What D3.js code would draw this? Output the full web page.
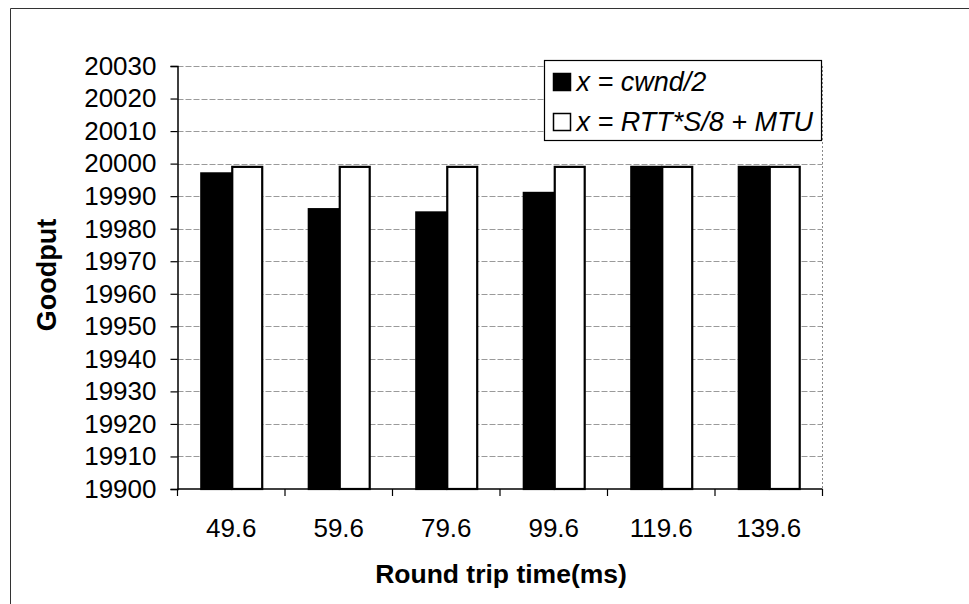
<!DOCTYPE html>
<html>
<head>
<meta charset="utf-8">
<script src="https://cdn.jsdelivr.net/npm/d3@7"></script>
<style>
  html, body { margin: 0; padding: 0; background: #fff; }
  svg { display: block; font-family: "Liberation Sans", Arial, sans-serif; }
</style>
</head>
<body>
<svg id="chart" width="969" height="604"></svg>
<script>
// Round trip times (ms) on the x axis
const categories = ["49.6", "59.6", "79.6", "99.6", "119.6", "139.6"];
// Goodput for each buffer sizing rule
const seriesNames = ["x = cwnd/2", "x = RTT*S/8 + MTU"];
const cwndHalf = [19997, 19986, 19985, 19991, 19999, 19999];
const rttRule = [19999, 19999, 19999, 19999, 19999, 19999];
const yTicks = [19900, 19910, 19920, 19930, 19940, 19950, 19960, 19970, 19980, 19990, 20000, 20010, 20020, 20030];
const seriesFill = ["#000000", "#ffffff"];

const rows = categories.map((c, i) => ({ cat: c, vals: [cwndHalf[i], rttRule[i]] }));

const svg = d3.select("#chart");
const plot = { left: 177.5, right: 822.5, top: 66, bottom: 489 };

// outer frame (left and top edges)
svg.append("path")
  .attr("d", `M10.5,604 L10.5,8.5 L969,8.5`)
  .attr("fill", "none").attr("stroke", "#333").attr("stroke-width", 1);

const y = d3.scaleLinear().domain([19900, 20030]).range([plot.bottom, plot.top]);
const x0 = d3.scaleBand().domain(categories).range([plot.left, plot.right]).padding(0);
const bw = x0.bandwidth();
const x1 = d3.scaleBand().domain([0, 1]).range([bw * 0.212, bw * 0.788]).padding(0);

// horizontal gridlines
svg.append("g").selectAll("line").data(yTicks.filter(t => t > 19900)).join("line")
  .attr("x1", plot.left).attr("x2", plot.right)
  .attr("y1", d => Math.round(y(d)) + 0.5).attr("y2", d => Math.round(y(d)) + 0.5)
  .attr("stroke", "#9a9a9a").attr("stroke-width", 1).attr("stroke-dasharray", "6,2");

// right edge of plot area
svg.append("line")
  .attr("x1", plot.right).attr("x2", plot.right)
  .attr("y1", y(20030)).attr("y2", plot.bottom)
  .attr("stroke", "#8a8a8a").attr("stroke-dasharray", "2,2");

// bars
const groups = svg.append("g").selectAll("g").data(rows).join("g")
  .attr("transform", d => `translate(${x0(d.cat)},0)`);
groups.selectAll("rect").data(d => d.vals.map((v, k) => ({ v, k }))).join("rect")
  .attr("x", d => x1(d.k) + 1)
  .attr("width", x1.bandwidth() - 1)
  .attr("y", d => y(d.v))
  .attr("height", d => plot.bottom - y(d.v))
  .attr("fill", d => seriesFill[d.k])
  .attr("stroke", "#000").attr("stroke-width", 2.2);

// y axis
const yAxis = d3.axisLeft(y).tickValues(yTicks).tickSize(7).tickPadding(14).tickFormat(d3.format("d"));
const gy = svg.append("g").attr("transform", `translate(${plot.left},0)`).call(yAxis);
gy.select(".domain").attr("stroke", "#000").attr("stroke-width", 1.5);
gy.selectAll(".tick line").attr("stroke", "#000").attr("stroke-width", 1.2);
gy.selectAll("text").attr("font-size", 26).attr("fill", "#000")
  .attr("font-family", "'Liberation Sans', Arial, sans-serif");

// x axis with ticks at category boundaries
const gx = svg.append("g").attr("transform", `translate(0,${plot.bottom})`);
gx.append("line").attr("x1", plot.left).attr("x2", plot.right)
  .attr("stroke", "#000").attr("stroke-width", 1.5);
const bounds = categories.map(c => x0(c)).concat([plot.right]);
gx.selectAll("line.tk").data(bounds).join("line").attr("class", "tk")
  .attr("x1", d => d).attr("x2", d => d).attr("y1", 0).attr("y2", 7)
  .attr("stroke", "#000").attr("stroke-width", 1.2);
gx.selectAll("text").data(categories).join("text")
  .attr("x", d => x0(d) + bw / 2).attr("y", 48)
  .attr("text-anchor", "middle").attr("font-size", 26).attr("fill", "#000")
  .text(d => d);

// axis titles
svg.append("text")
  .attr("transform", `translate(56,275) rotate(-90)`)
  .attr("text-anchor", "middle").attr("font-size", 27).attr("font-weight", "bold")
  .text("Goodput");
svg.append("text")
  .attr("x", 501).attr("y", 583)
  .attr("text-anchor", "middle").attr("font-size", 26.5).attr("font-weight", "bold")
  .text("Round trip time(ms)");

// legend
const lg = svg.append("g").attr("transform", "translate(544.5,60.5)");
lg.append("rect").attr("width", 277).attr("height", 80)
  .attr("fill", "#fff").attr("stroke", "#000").attr("stroke-width", 1.2);
const items = lg.selectAll("g").data(seriesNames).join("g")
  .attr("transform", (d, i) => `translate(0,${i * 40})`);
items.append("rect").attr("x", 9).attr("y", 13).attr("width", 17).attr("height", 17)
  .attr("fill", (d, i) => seriesFill[i]).attr("stroke", "#000").attr("stroke-width", 1.5);
items.append("text").attr("x", 32).attr("y", 30)
  .attr("font-size", 27).attr("font-style", "italic").attr("fill", "#000")
  .text(d => d);
</script>
</body>
</html>
